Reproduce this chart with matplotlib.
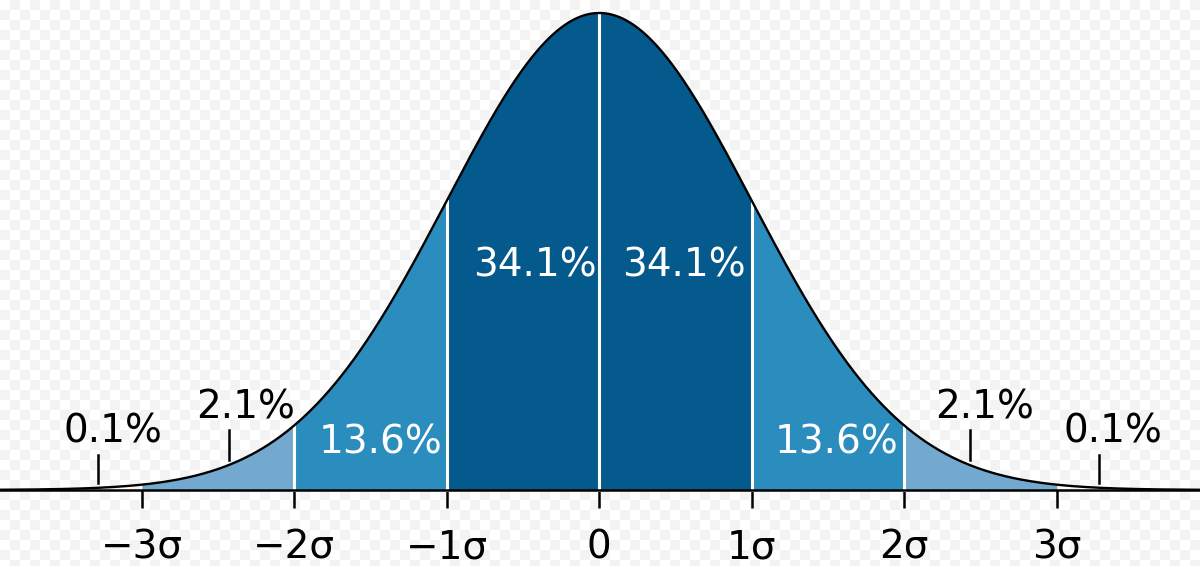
import numpy as np
import matplotlib
matplotlib.use("Agg")
import matplotlib.pyplot as plt

# ---- data ----
sigma_ticks = [-3, -2, -1, 0, 1, 2, 3]
tick_labels = ["−3σ", "−2σ", "−1σ", "0", "1σ", "2σ", "3σ"]
band_edges = [(-3, -2), (-2, -1), (-1, 0), (0, 1), (1, 2), (2, 3)]
band_colors = ["#74a9cf", "#2b8cbe", "#045a8d", "#045a8d", "#2b8cbe", "#74a9cf"]
inner_pcts = ["34.1%", "34.1%", "13.6%", "13.6%"]
inner_xy = [(-0.42, 0.188), (0.557, 0.188), (-1.436, 0.040), (1.556, 0.040)]
outer_pcts = ["2.1%", "2.1%", "0.1%", "0.1%"]
outer_text_xy = [(-2.32, 0.069), (2.53, 0.069), (-3.19, 0.049), (3.37, 0.049)]
outer_tick_x = [-2.43, 2.43, -3.285, 3.28]
outer_tick_y = [(0.0251, 0.0502), (0.0251, 0.0502), (0.0059, 0.0293), (0.0059, 0.0293)]

def pdf(x):
    return np.exp(-0.5 * x ** 2) / np.sqrt(2 * np.pi)

fig = plt.figure(figsize=(12, 5.66), dpi=100)

# faint checkerboard background
bgax = fig.add_axes([0, 0, 1, 1], zorder=0)
H, W = 566, 1200
yy, xx = np.mgrid[0:H, 0:W]
checker = (((xx // 10) + (yy // 10)) % 2).astype(float)
bg = np.where(checker[..., None] > 0, 0.955, 1.0) * np.ones((H, W, 3))
bgax.imshow(bg, aspect="auto", interpolation="nearest")
bgax.axis("off")

ax = fig.add_axes([0, 0, 1, 1], zorder=1)
ax.set_facecolor("none")
ax.set_xlim(-3.93, 3.94)
ax.set_ylim(-0.0636, 0.4098)

x = np.linspace(-3.93, 3.94, 2000)
for (a, b), c in zip(band_edges, band_colors):
    xs = np.linspace(a, b, 300)
    ax.fill_between(xs, 0, pdf(xs), color=c, lw=0, zorder=1)
for s in sigma_ticks[1:-1]:
    ax.plot([s, s], [0, pdf(s)], color="white", lw=2.2, zorder=2)
ax.plot(x, pdf(x), color="black", lw=1.7, zorder=3)

for t, (tx, ty) in zip(inner_pcts, inner_xy):
    ax.text(tx, ty, t, color="white", fontsize=28, ha="center", va="center", zorder=4)
for t, (tx, ty) in zip(outer_pcts, outer_text_xy):
    ax.text(tx, ty, t, color="black", fontsize=28, ha="center", va="center", zorder=4)
for tx, (y0, y1) in zip(outer_tick_x, outer_tick_y):
    ax.plot([tx, tx], [y0, y1], color="black", lw=1.8, zorder=4)

for sp in ["top", "right", "left"]:
    ax.spines[sp].set_visible(False)
ax.spines["bottom"].set_position(("data", 0))
ax.spines["bottom"].set_linewidth(1.8)
ax.spines["bottom"].set_zorder(5)
ax.set_xticks(sigma_ticks)
ax.set_xticklabels(tick_labels, fontsize=28)
ax.tick_params(axis="x", length=13, width=1.8, pad=15, direction="out")
ax.set_yticks([])

fig.savefig("out.png", dpi=100)
